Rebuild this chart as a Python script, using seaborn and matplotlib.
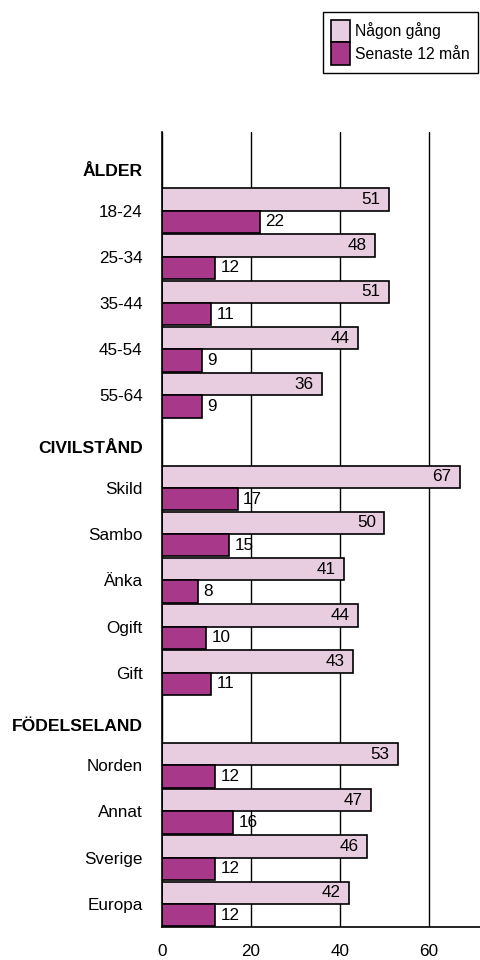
import matplotlib
matplotlib.use("Agg")
import matplotlib.pyplot as plt
import matplotlib.transforms as mtransforms
import seaborn as sns
import pandas as pd

# ---- data ----
headers = ["ÅLDER", "CIVILSTÅND", "FÖDELSELAND"]
alder = ["18-24", "25-34", "35-44", "45-54", "55-64"]
civil = ["Skild", "Sambo", "Änka", "Ogift", "Gift"]
fodelse = ["Norden", "Annat", "Sverige", "Europa"]
categories = alder + civil + fodelse
nagon_gang = [51, 48, 51, 44, 36, 67, 50, 41, 44, 43, 53, 47, 46, 42]
senaste_12 = [22, 12, 11, 9, 9, 17, 15, 8, 10, 11, 12, 16, 12, 12]
series = ["Någon gång", "Senaste 12 mån"]
x_ticks = [0, 20, 40, 60]

order = [headers[0]] + alder + [headers[1]] + civil + [headers[2]] + fodelse

df = pd.DataFrame({
    "cat": categories * 2,
    "value": nagon_gang + senaste_12,
    "serie": [series[0]] * len(categories) + [series[1]] * len(categories),
})

sns.set_style("white")
plt.rcParams["font.family"] = ["Liberation Sans", "DejaVu Sans"]
plt.rcParams["text.color"] = "black"
plt.rcParams["xtick.color"] = "black"
plt.rcParams["ytick.color"] = "black"
plt.rcParams["axes.labelcolor"] = "black"

light = "#E8CCE0"
dark = "#A8398A"

fig = plt.figure(figsize=(4.8, 9.6), dpi=100)
ax = fig.add_axes([162 / 480, 1 - 927 / 960, 1 - 162 / 480, (927 - 132) / 960])

sns.barplot(data=df, x="value", y="cat", hue="serie", order=order,
            hue_order=series, palette=[light, dark], saturation=1,
            width=0.965, gap=0,
            edgecolor="black", linewidth=1.2, orient="h", ax=ax, legend=True)

ax.set_xlim(0, 71.5)
ax.set_ylim(16.5, -0.70)
ax.set_axisbelow(True)
ax.set_xticks(x_ticks)
ax.xaxis.grid(True, color="black", linewidth=1.0)
ax.yaxis.grid(False)
for s in ["top", "right"]:
    ax.spines[s].set_visible(False)
for s in ["left", "bottom"]:
    ax.spines[s].set_color("black")
    ax.spines[s].set_linewidth(1.2)
ax.set_xlabel("")
ax.set_ylabel("")
ax.tick_params(axis="x", length=0, pad=12, labelsize=12.3, labelcolor="black")
ax.tick_params(axis="y", length=0, pad=14, labelsize=12.3, labelcolor="black")
shift = mtransforms.ScaledTranslation(0, -4 / 72, fig.dpi_scale_trans)
for lab in ax.get_yticklabels():
    if lab.get_text() in headers:
        lab.set_fontweight("bold")
        lab.set_fontsize(12.6)
        lab.set_transform(lab.get_transform() + shift)

# value labels
for i, cont in enumerate(ax.containers):
    for p in cont.patches:
        w = p.get_width()
        if not w == w or w == 0:
            continue
        yc = p.get_y() + p.get_height() / 2
        if i == 0:
            ax.annotate(f"{int(round(w))}", (w, yc), xytext=(-6, 0),
                        textcoords="offset points", ha="right", va="center",
                        fontsize=12.3, color="black")
        else:
            ax.annotate(f"{int(round(w))}", (w, yc), xytext=(4, 0),
                        textcoords="offset points", ha="left", va="center",
                        fontsize=12.3, color="black")

handles, labels = ax.get_legend_handles_labels()
ax.get_legend().remove()
leg = fig.legend(handles, labels, loc="upper right",
                 bbox_to_anchor=(478 / 480, 1 - 12 / 960),
                 bbox_transform=fig.transFigure, fontsize=11.3,
                 frameon=True, fancybox=False, framealpha=1,
                 edgecolor="black", borderpad=0.5, labelspacing=0,
                 handlelength=1.21, handleheight=1.83, handletextpad=0.35,
                 borderaxespad=0)
leg.get_frame().set_linewidth(1.0)
for t in leg.get_texts():
    t.set_color("black")

fig.savefig("out.png", dpi=100)
